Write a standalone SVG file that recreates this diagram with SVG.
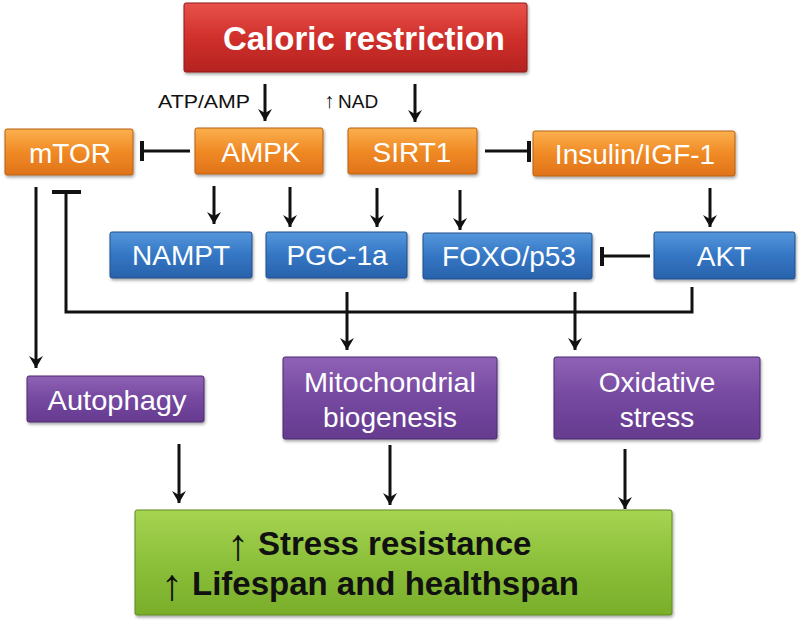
<svg xmlns="http://www.w3.org/2000/svg" width="800" height="620" viewBox="0 0 800 620">
<defs>
<linearGradient id="gRed" x1="0" y1="0" x2="0" y2="1"><stop offset="0" stop-color="#e8524a"/><stop offset="0.5" stop-color="#d0302c"/><stop offset="1" stop-color="#b42320"/></linearGradient>
<linearGradient id="gOrange" x1="0" y1="0" x2="0" y2="1"><stop offset="0" stop-color="#fbb04e"/><stop offset="0.5" stop-color="#f08a25"/><stop offset="1" stop-color="#e0731a"/></linearGradient>
<linearGradient id="gBlue" x1="0" y1="0" x2="0" y2="1"><stop offset="0" stop-color="#5597dc"/><stop offset="0.5" stop-color="#3476c4"/><stop offset="1" stop-color="#2962ab"/></linearGradient>
<linearGradient id="gPurple" x1="0" y1="0" x2="0" y2="1"><stop offset="0" stop-color="#8f62b6"/><stop offset="0.5" stop-color="#7548a0"/><stop offset="1" stop-color="#653b8f"/></linearGradient>
<linearGradient id="gGreen" x1="0" y1="0" x2="0" y2="1"><stop offset="0" stop-color="#a6d452"/><stop offset="0.5" stop-color="#8cc03a"/><stop offset="1" stop-color="#79ae2a"/></linearGradient>
<filter id="sh" x="-10%" y="-10%" width="130%" height="140%"><feDropShadow dx="1" dy="2" stdDeviation="1.5" flood-color="#000" flood-opacity="0.35"/></filter>
<marker id="arr" viewBox="0 0 12 14" refX="12" refY="7" markerWidth="12" markerHeight="14" markerUnits="userSpaceOnUse" orient="auto"><path d="M0,0 L12,7 L0,14 L4,7 z" fill="#111"/></marker>
<style>
.box{filter:url(#sh);stroke-width:1}
.red{fill:url(#gRed);stroke:#8e1c1a}
.org{fill:url(#gOrange);stroke:#b8600f}
.blu{fill:url(#gBlue);stroke:#1f4f8a}
.pur{fill:url(#gPurple);stroke:#4c2a6e}
.grn{fill:url(#gGreen);stroke:#5f8c1f}
text{font-family:"Liberation Sans",Arial,Helvetica,sans-serif}
.lbl{fill:#fff;font-size:28px;text-anchor:middle}
.title{fill:#fff;font-size:33px;font-weight:bold;text-anchor:middle}
.out{fill:#111;font-size:33px;font-weight:bold}
.up{font-size:44px;font-weight:normal}
.small{fill:#111;font-size:19px}
.c{stroke:#111;stroke-width:3;fill:none}
.bar{stroke:#111;stroke-width:4;fill:none}
.a{marker-end:url(#arr)}
</style>
</defs>

<g id="connectors">
<line class="c a" x1="265" y1="84" x2="265" y2="121"/>
<line class="c a" x1="415" y1="84" x2="415" y2="122"/>
<line class="c" x1="190" y1="151" x2="142" y2="151"/>
<line class="bar" x1="142" y1="141" x2="142" y2="161"/>
<line class="c" x1="485" y1="151" x2="529" y2="151"/>
<line class="bar" x1="529" y1="141" x2="529" y2="162"/>
<line class="c a" x1="214" y1="186" x2="214" y2="224"/>
<line class="c a" x1="290" y1="187" x2="290" y2="227"/>
<line class="c a" x1="377" y1="188" x2="377" y2="227"/>
<line class="c a" x1="460" y1="190" x2="460" y2="230"/>
<line class="c a" x1="710" y1="188" x2="710" y2="227"/>
<line class="c" x1="650" y1="256" x2="602" y2="256"/>
<line class="bar" x1="602" y1="247" x2="602" y2="266"/>
<line class="c a" x1="36" y1="187" x2="36" y2="368"/>
<path class="c" d="M692,287 V312 H66 V192"/>
<line class="bar" x1="52" y1="192" x2="81" y2="192"/>
<line class="c a" x1="347" y1="292" x2="347" y2="350"/>
<line class="c a" x1="575" y1="292" x2="575" y2="350"/>
<line class="c a" x1="179" y1="444" x2="179" y2="503"/>
<line class="c a" x1="390" y1="445" x2="390" y2="505"/>
<line class="c a" x1="625" y1="449" x2="625" y2="509"/>
</g>

<g id="labels">
<text class="small" x="158" y="108" textLength="92" lengthAdjust="spacingAndGlyphs">ATP/AMP</text>
<text class="small" x="324" y="108"><tspan font-size="21">↑</tspan><tspan x="338">NAD</tspan></text>
</g>

<g id="cr">
<rect class="box red" x="184" y="3" width="343" height="69" rx="2"/>
<text class="title" x="364" y="50" textLength="282" lengthAdjust="spacingAndGlyphs">Caloric restriction</text>
</g>
<g id="mtor">
<rect class="box org" x="5" y="129" width="128" height="46" rx="2"/>
<text class="lbl" x="70" y="163">mTOR</text>
</g>
<g id="ampk">
<rect class="box org" x="195" y="128" width="128" height="46" rx="2"/>
<text class="lbl" x="261" y="162">AMPK</text>
</g>
<g id="sirt1">
<rect class="box org" x="348" y="128" width="129" height="46" rx="2"/>
<text class="lbl" x="412" y="162">SIRT1</text>
</g>
<g id="insulin">
<rect class="box org" x="533" y="131" width="202" height="45" rx="2"/>
<text class="lbl" x="635" y="164">Insulin/IGF-1</text>
</g>
<g id="nampt">
<rect class="box blu" x="110" y="232" width="142" height="46" rx="2"/>
<text class="lbl" x="181" y="265">NAMPT</text>
</g>
<g id="pgc1a">
<rect class="box blu" x="266" y="232" width="141" height="46" rx="2"/>
<text class="lbl" x="337" y="265">PGC-1a</text>
</g>
<g id="foxo">
<rect class="box blu" x="423" y="233" width="169" height="46" rx="2"/>
<text class="lbl" x="509" y="266">FOXO/p53</text>
</g>
<g id="akt">
<rect class="box blu" x="654" y="232" width="141" height="47" rx="2"/>
<text class="lbl" x="724" y="266">AKT</text>
</g>
<g id="autophagy">
<rect class="box pur" x="27" y="376" width="177" height="46" rx="2"/>
<text class="lbl" x="117" y="410" textLength="139" lengthAdjust="spacingAndGlyphs">Autophagy</text>
</g>
<g id="mito">
<rect class="box pur" x="283" y="357" width="214" height="82" rx="2"/>
<text class="lbl" x="390" y="392" textLength="172" lengthAdjust="spacingAndGlyphs">Mitochondrial</text>
<text class="lbl" x="390" y="427">biogenesis</text>
</g>
<g id="oxidative">
<rect class="box pur" x="554" y="357" width="206" height="82" rx="2"/>
<text class="lbl" x="657" y="392">Oxidative</text>
<text class="lbl" x="657" y="427">stress</text>
</g>
<g id="outcome">
<rect class="box grn" x="135" y="510" width="537" height="105" rx="2"/>
<text class="out" x="227" y="560"><tspan class="up">↑</tspan><tspan x="258" y="555">Stress resistance</tspan></text>
<text class="out" x="161" y="600"><tspan class="up">↑</tspan><tspan x="192" y="595">Lifespan and healthspan</tspan></text>
</g>
</svg>
